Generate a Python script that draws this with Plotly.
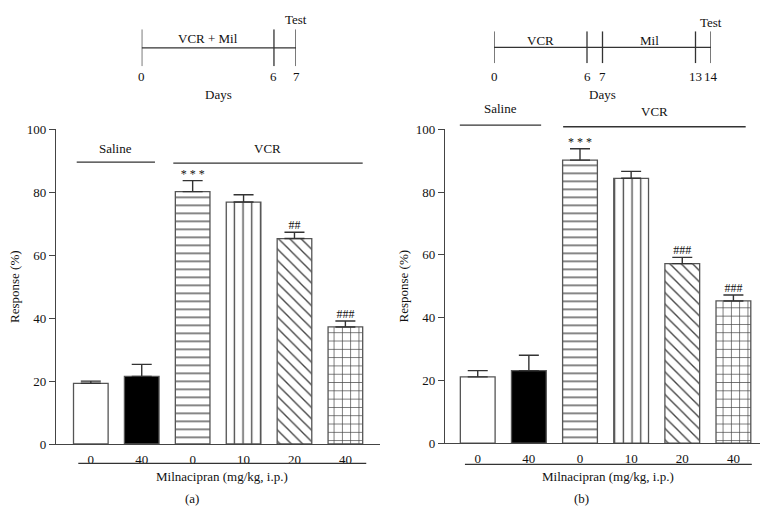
import plotly.graph_objects as go

# ---------------- data ----------------
doses = ["0", "40", "0", "10", "20", "40"]
resp_a = [19.3, 21.5, 80.2, 76.9, 65.3, 37.2]
err_a = [0.7, 3.8, 3.5, 2.3, 2.0, 1.9]
sig_a = ["", "", "* * *", "", "##", "###"]

resp_b = [21.1, 23.1, 90.2, 84.4, 57.2, 45.3]
err_b = [2.0, 4.9, 3.6, 2.2, 2.0, 1.9]
sig_b = ["", "", "* * *", "", "###", "###"]

y_ticks = [0, 20, 40, 60, 80, 100]

days_a = [0, 6, 7]
phases_a = [("VCR + Mil", 3)]
days_b = [0, 6, 7, 13, 14]
phases_b = [("VCR", 3), ("Mil", 10)]

# ---------------- style ----------------
FONT = "Liberation Serif, Times New Roman, serif"
INK = "#111111"
W, H = 777, 520
fills = ["white", "black", "white", "white", "white", "white"]
shapes_pat = ["", "", "-", "|", "\\", "+"]
sizes_pat = [8, 8, 8, 8.7, 8, 8.3]
sol_pat = [0.16, 0.16, 0.16, 0.15, 0.17, 0.16]

def px_x(p):
    return p / W

def px_y(p):
    return 1 - p / H

fig = go.Figure()

def add_panel(resp, err, sig, xa, ya):
    fig.add_trace(go.Bar(
        x=list(range(len(doses))), y=resp, width=0.68,
        xaxis=xa, yaxis=ya,
        marker=dict(color=fills, line=dict(color="#555555", width=1.3),
                    pattern=dict(shape=shapes_pat, size=sizes_pat, solidity=sol_pat,
                                 fgcolor="#1a1a1a", fgopacity=1,
                                 fillmode="overlay")),
        error_y=dict(type="data", array=err, arrayminus=[0] * len(err), symmetric=False,
                     color="#333333", thickness=1.4, width=10),
        showlegend=False, hoverinfo="skip"))
    fig.add_trace(go.Scatter(
        x=list(range(len(doses))), y=[r + e for r, e in zip(resp, err)],
        xaxis=xa, yaxis=ya, mode="text", text=sig, textposition="top center",
        textfont=dict(family=FONT, size=12, color=INK), showlegend=False,
        hoverinfo="skip", cliponaxis=False))

add_panel(resp_a, err_a, sig_a, "x", "y")
add_panel(resp_b, err_b, sig_b, "x2", "y2")

def add_timeline(days, xa, ya):
    fig.add_trace(go.Scatter(x=[days[0], days[-1]], y=[0, 0], xaxis=xa, yaxis=ya,
                             mode="lines", line=dict(color="#333333", width=1.3),
                             showlegend=False, hoverinfo="skip"))
    xs, ys = [], []
    for d in days:
        xs += [d, d, None]
        ys += [-1, 1, None]
    fig.add_trace(go.Scatter(x=xs, y=ys, xaxis=xa, yaxis=ya, mode="lines",
                             line=dict(color="#333333", width=1.3),
                             showlegend=False, hoverinfo="skip"))

add_timeline(days_a, "x3", "y3")
add_timeline(days_b, "x4", "y4")

axis_common = dict(showgrid=False, zeroline=False, color=INK,
                   tickfont=dict(family=FONT, size=13, color=INK))

fig.update_layout(
    width=W, height=H, margin=dict(l=0, r=0, t=0, b=0),
    paper_bgcolor="white", plot_bgcolor="white",
    font=dict(family=FONT, size=13, color=INK),
    xaxis=dict(domain=[px_x(56), px_x(380)], range=[-0.684, 5.68], anchor="y",
               tickvals=list(range(6)), ticktext=doses, ticks="", showline=True,
               ticklabelstandoff=3,
               linecolor="#444444", linewidth=1.3, **axis_common),
    yaxis=dict(domain=[px_y(450), px_y(126)], range=[0, 100], anchor="x",
               tickvals=y_ticks, ticks="outside", ticklen=6, tickwidth=1.2,
               tickcolor="#444444", showline=True, linecolor="#444444", linewidth=1.3,
               title=dict(text="Response (%)", font=dict(family=FONT, size=13, color=INK),
                          standoff=4), **axis_common),
    xaxis2=dict(domain=[px_x(445), px_x(760)], range=[-0.64, 5.52], anchor="y2",
                tickvals=list(range(6)), ticktext=doses, ticks="", showline=True,
                ticklabelstandoff=3,
                linecolor="#444444", linewidth=1.3, **axis_common),
    yaxis2=dict(domain=[px_y(449), px_y(126)], range=[0, 100], anchor="x2",
                tickvals=y_ticks, ticks="outside", ticklen=6, tickwidth=1.2,
                tickcolor="#444444", showline=True, linecolor="#444444", linewidth=1.3,
                title=dict(text="Response (%)", font=dict(family=FONT, size=13, color=INK),
                           standoff=4), **axis_common),
    xaxis3=dict(domain=[px_x(141.7), px_x(296)], range=[0, 7], anchor="y3", visible=False),
    yaxis3=dict(domain=[px_y(61), px_y(23)], range=[-1, 1], anchor="x3", visible=False),
    xaxis4=dict(domain=[px_x(494), px_x(711)], range=[0, 14], anchor="y4", visible=False),
    yaxis4=dict(domain=[px_y(58), px_y(25)], range=[-1, 1], anchor="x4", visible=False),
)

ann = []
shp = []

def txt(x, y, s, xref, size=13):
    ann.append(dict(x=x, y=y, xref=xref, yref="paper", text=s, showarrow=False,
                    xanchor="center", yanchor="middle",
                    font=dict(family=FONT, size=size, color=INK)))

def hline(x0, x1, ypx, xref):
    shp.append(dict(type="line", xref=xref, yref="paper", x0=x0, x1=x1,
                    y0=px_y(ypx), y1=px_y(ypx), line=dict(color="#333333", width=1.3)))

# timeline a
for d in days_a:
    txt(d, px_y(72), str(d), "x3")
for name, d in phases_a:
    txt(d, px_y(32), name, "x3")
txt(days_a[-1], px_y(13), "Test", "x3")
txt((days_a[0] + days_a[-1]) / 2, px_y(90), "Days", "x3")

# timeline b
for d in days_b:
    txt(d, px_y(72), str(d), "x4")
for name, d in phases_b:
    txt(d, px_y(35), name, "x4")
txt(days_b[-1], px_y(16), "Test", "x4")
txt((days_b[0] + days_b[-1]) / 2, px_y(90), "Days", "x4")

# panel a group brackets
hline(-0.277, 1.26, 159.7, "x")
txt(0.49, px_y(146), "Saline", "x")
hline(1.62, 5.34, 160.7, "x")
txt(3.48, px_y(146), "VCR", "x")
hline(-0.246, 5.41, 470, "x")
txt(2.58, px_y(483), "Milnacipran (mg/kg, i.p.)", "x")
txt(1.98, px_y(506), "(a)", "x")

# panel b group brackets
hline(-0.35, 1.24, 121.7, "x2")
txt(0.45, px_y(105), "Saline", "x2")
hline(1.67, 5.24, 123.3, "x2")
txt(3.45, px_y(108), "VCR", "x2")
hline(-0.25, 5.36, 471, "x2")
txt(2.55, px_y(483), "Milnacipran (mg/kg, i.p.)", "x2")
txt(2.03, px_y(506), "(b)", "x2")

fig.update_layout(annotations=ann, shapes=shp)

fig.write_html("out.html")
